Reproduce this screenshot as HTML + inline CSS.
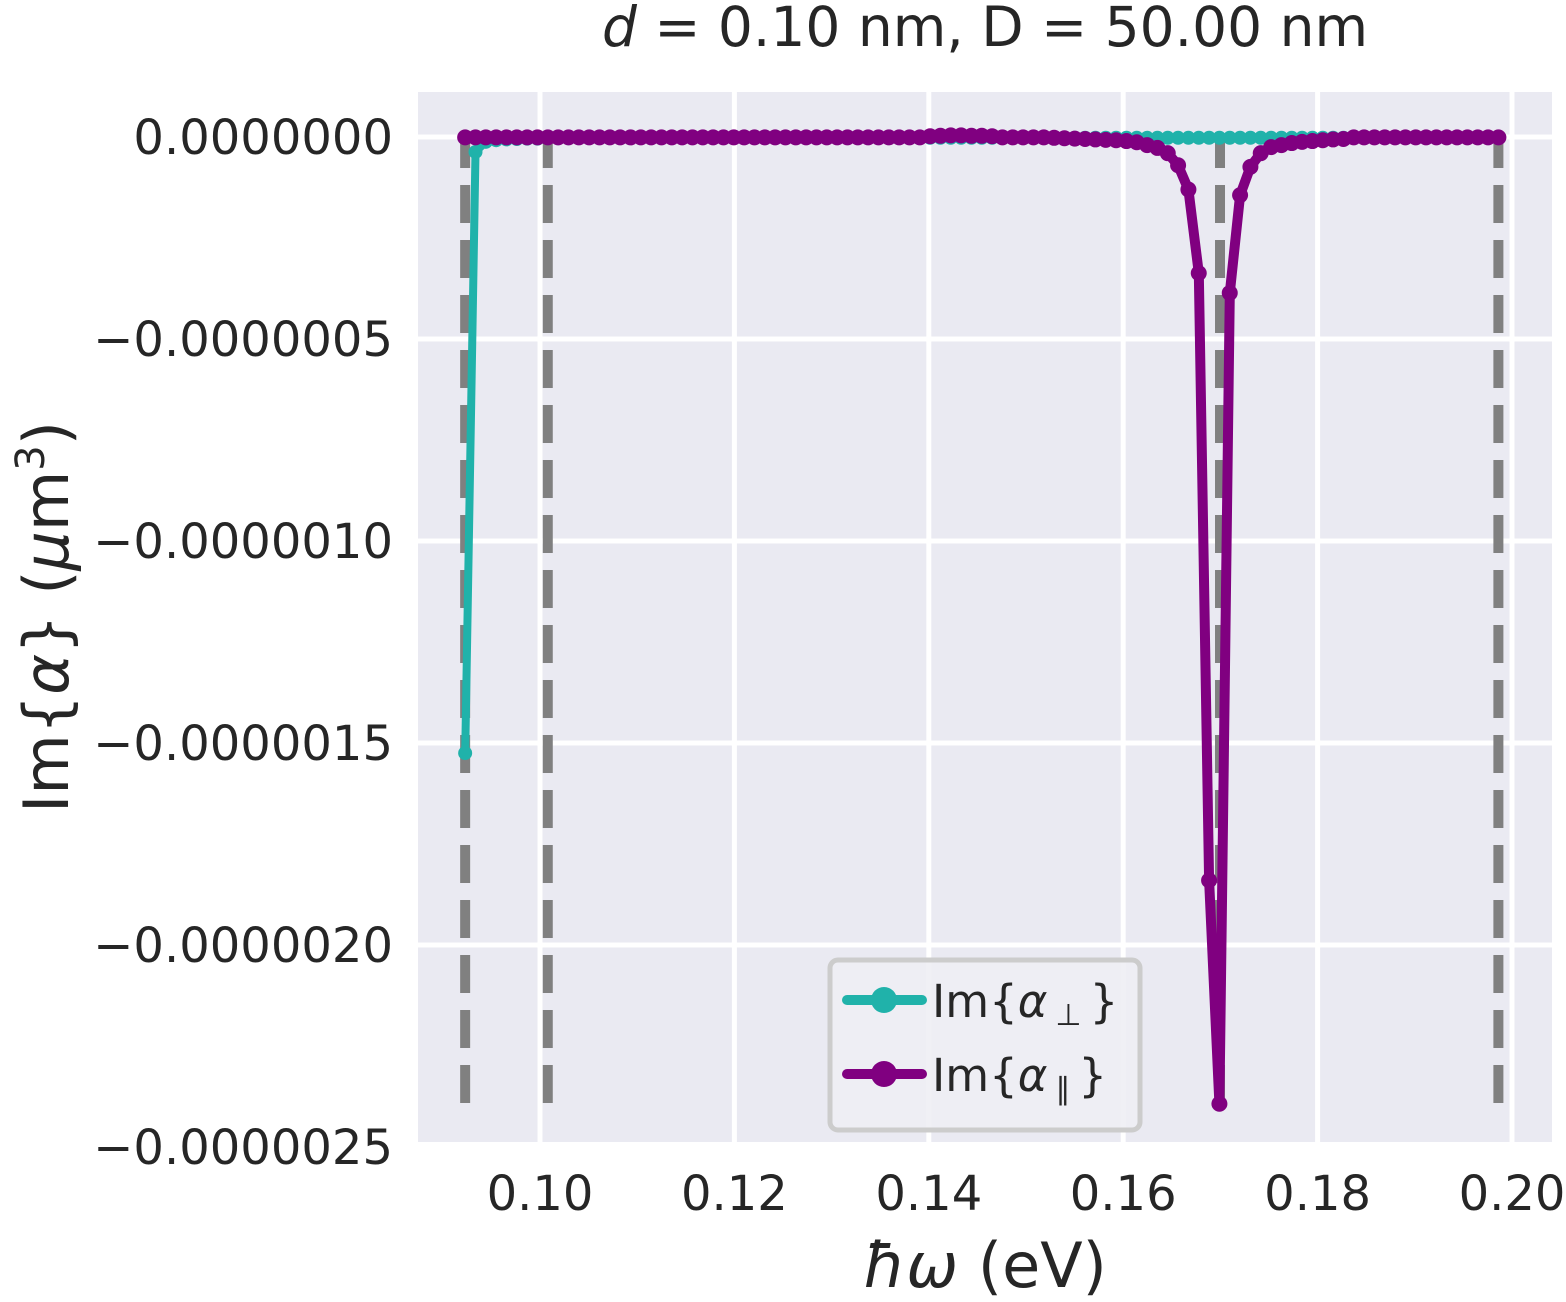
<!DOCTYPE html>
<html><head><meta charset="utf-8"><style>
html,body{margin:0;padding:0;background:#fff;}
svg{display:block;font-family:"DejaVu Sans","Liberation Sans",sans-serif;}
</style></head><body>
<svg id="chart" width="1566" height="1302" viewBox="0 0 1566 1302">
<rect x="418" y="92" width="1134" height="1050" fill="#eaeaf2"/>
<g id="grid"></g>
<g id="vlines"></g>
<g id="series"></g>
<g id="ticks"></g>
<text x="985" y="46" font-size="55" fill="#262626" text-anchor="middle"><tspan font-style="italic">d</tspan> = 0.10 nm, D = 50.00 nm</text>
<text x="985" y="1287" font-size="62" fill="#262626" text-anchor="middle"><tspan font-style="italic">ħω</tspan> (eV)</text>
<text transform="translate(68,617) rotate(-90)" font-size="62" fill="#262626" text-anchor="middle">Im{<tspan font-style="italic">α</tspan>} (<tspan font-style="italic">μ</tspan>m<tspan font-size="40" dy="-24">3</tspan><tspan dy="24">)</tspan></text>
<g>
<rect x="830" y="960" width="310" height="170" rx="8" fill="#eeeef4" fill-opacity="0.9" stroke="#cccccc" stroke-width="5"/>
<g>
<line x1="847" y1="1000" x2="922" y2="1000" stroke="#20b2aa" stroke-width="10" stroke-linecap="round"/>
<circle cx="884" cy="1000" r="13" fill="#20b2aa"/>
<text x="932" y="1017" font-size="45" fill="#262626">Im{<tspan font-style="italic">α</tspan><tspan font-size="30" dx="8" dy="8">⊥</tspan><tspan dx="8" dy="-8">}</tspan></text>
</g>
<g>
<line x1="847" y1="1074" x2="922" y2="1074" stroke="#800080" stroke-width="10" stroke-linecap="round"/>
<circle cx="884" cy="1074" r="13" fill="#800080"/>
<text x="932" y="1091" font-size="45" fill="#262626">Im{<tspan font-style="italic">α</tspan><tspan font-size="30" dx="8" dy="8">∥</tspan><tspan dx="8" dy="-8">}</tspan></text>
</g>
</g>
</svg>
<script>
const xStart = 0.0923, xStep = 0.001063, nPts = 101;
const xTicks = [0.10,0.12,0.14,0.16,0.18,0.20];
const xTickLabels = ["0.10","0.12","0.14","0.16","0.18","0.20"];
const yTicks = [0,-5e-7,-1e-6,-1.5e-6,-2e-6,-2.5e-6];
const yTickLabels = ["0.0000000","−0.0000005","−0.0000010","−0.0000015","−0.0000020","−0.0000025"];
const resonances = [0.0923,0.1008,0.16996,0.1986];
// values in units of 1e-9 µm^3
const perpHead = [-1525,-37,-12,-8,-6,-5,-4,-4,-3,-3,-3];
const perpTailVal = -2;
const parPeakIdx = [57,58,59,60,61,62,63,64,65,66,67,68,69,70,71,72,73,74,75,76,77,78,79,80,81,82,83,84,85];
const parPeakVal = [-2,-3,-4,-5,-6,-7,-8,-10,-13,-20,-27,-40,-70,-130,-337,-1840,-2393,-386,-144,-74,-40,-25,-20,-15,-12,-10,-8,-6,-5];
const parBump = [[45,2],[46,3],[47,4],[48,4],[49,3],[50,3],[51,2]];

const px = x => 540 + (x - 0.10) * 9720;
const py = v => 137 - v * 404000000;
const NS = "http://www.w3.org/2000/svg";
function mk(tag, attrs, parent){const e=document.createElementNS(NS,tag);for(const k in attrs)e.setAttribute(k,attrs[k]);parent.appendChild(e);return e;}

const grid=document.getElementById('grid');
xTicks.forEach(t=>{const l=mk('line',{x1:px(t),x2:px(t),y1:92,y2:1142,stroke:'#fff','stroke-width':5},grid);

});
yTicks.forEach(t=>{const l=mk('line',{x1:418,x2:1552,y1:py(t),y2:py(t),stroke:'#fff','stroke-width':5},grid);

});

const ticks=document.getElementById('ticks');
xTicks.forEach((t,i)=>{const e=mk('text',{x:px(t),y:1210,'font-size':48,fill:'#262626','text-anchor':'middle'},ticks);e.textContent=xTickLabels[i];

});
yTicks.forEach((t,i)=>{const e=mk('text',{x:393,y:py(t)+17,'font-size':48,fill:'#262626','text-anchor':'end'},ticks);e.textContent=yTickLabels[i];

});

const xs=[];for(let i=0;i<nPts;i++)xs.push(xStart+i*xStep);
const perp=xs.map((x,i)=>(i<perpHead.length?perpHead[i]:perpTailVal)*1e-9);
const par=xs.map(()=>-1e-9);
parPeakIdx.forEach((k,j)=>{par[k]=parPeakVal[j]*1e-9;});
parBump.forEach(([k,v])=>{par[k]=v*1e-9;});

const series=document.getElementById('series');
function draw(vals,color,name,r,w){
  const g=mk('g',{},series);
  
  
  const d=vals.map((v,i)=>(i?'L':'M')+px(xs[i]).toFixed(1)+','+py(v).toFixed(1)).join(' ');
  const p=mk('path',{d:d,fill:'none',stroke:color,'stroke-width':w,'stroke-linejoin':'round'},g);
  
  
  vals.forEach((v,i)=>{const c=mk('circle',{cx:px(xs[i]),cy:py(v),r:r,fill:color},g);
  
  });
}
draw(perp,'#20b2aa','perp-series',7,8);
draw(par,'#800080','par-series',8,10);

const vl=document.getElementById('vlines');
resonances.forEach(r=>{const l=mk('line',{x1:px(r),x2:px(r),y1:1103,y2:137,stroke:'#808080','stroke-width':10,'stroke-dasharray':'38 17'},vl);

});
</script>
</body></html>
